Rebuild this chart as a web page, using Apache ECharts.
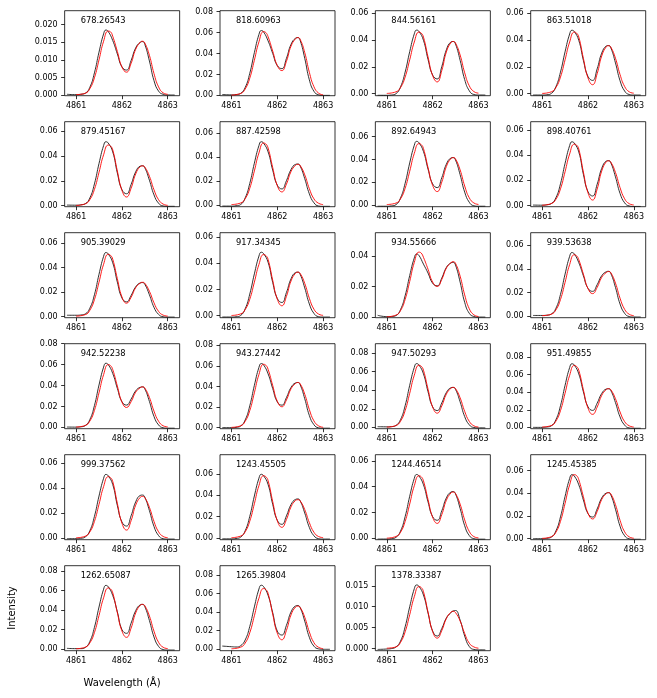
<!DOCTYPE html>
<html>
<head>
<meta charset="utf-8">
<script src="https://cdn.jsdelivr.net/npm/echarts@6/dist/echarts.min.js"></script>
<style>
  html, body { margin: 0; padding: 0; background: #fff; }
  #chart { width: 657px; height: 698px; }
</style>
</head>
<body>
<div id="chart"></div>
<script>
// panel labels
const titles = ['678.26543', '818.60963', '844.56161', '863.51018', '879.45167', '887.42598',
    '892.64943', '898.40761', '905.39029', '917.34345', '934.55666', '939.53638', '942.52238',
    '943.27442', '947.50293', '951.49855', '999.37562', '1243.45505', '1244.46514', '1245.45385',
    '1262.65087', '1265.39804', '1378.33387'];

// wavelength grids (Angstrom) of the observed (black) and fitted (red) profiles
const waveObs = [4860.8, 4861.0, 4861.1, 4861.2, 4861.3, 4861.4, 4861.5, 4861.6, 4861.65, 4861.7,
    4861.8, 4861.9, 4862.0, 4862.1, 4862.2, 4862.3, 4862.4, 4862.45, 4862.5, 4862.6, 4862.7,
    4862.8, 4862.9, 4863.0, 4863.15];
const waveFit = [4861.0, 4861.2, 4861.3, 4861.4, 4861.5, 4861.6, 4861.7, 4861.75, 4861.8, 4861.9,
    4862.0, 4862.1, 4862.2, 4862.3, 4862.4, 4862.45, 4862.5, 4862.6, 4862.7, 4862.8, 4862.9, 4863.0];

// observed intensity, one row per panel
const obs = [
    [0.0002,0.0001,0.0002,0.0005,0.0022,0.0063,0.0122,0.0174,0.0185,0.0181,0.0155,0.0117,0.0080,0.0071,0.0098,0.0134,0.0150,0.0152,0.0144,0.0097,0.0041,0.0011,0.0002,0.0000,0.0000],
    [0.0008,0.0005,0.0008,0.0019,0.0076,0.0211,0.0409,0.0583,0.0620,0.0608,0.0521,0.0402,0.0285,0.0256,0.0354,0.0488,0.0547,0.0553,0.0525,0.0354,0.0149,0.0039,0.0006,0.0000,0.0000],
    [-0.0012,-0.0012,-0.0010,0.0000,0.0051,0.0161,0.0314,0.0447,0.0475,0.0466,0.0399,0.0256,0.0139,0.0110,0.0202,0.0328,0.0386,0.0390,0.0371,0.0250,0.0105,0.0022,-0.0006,-0.0010,-0.0010],
    [-0.0010,-0.0010,-0.0008,0.0002,0.0052,0.0161,0.0313,0.0446,0.0474,0.0465,0.0398,0.0249,0.0129,0.0099,0.0185,0.0303,0.0356,0.0360,0.0342,0.0230,0.0097,0.0020,-0.0006,-0.0010,-0.0010],
    [0.0005,0.0004,0.0007,0.0016,0.0062,0.0175,0.0339,0.0483,0.0514,0.0504,0.0432,0.0263,0.0129,0.0096,0.0170,0.0272,0.0318,0.0321,0.0305,0.0205,0.0087,0.0020,-0.0002,-0.0005,-0.0005],
    [-0.0010,-0.0010,-0.0007,0.0003,0.0059,0.0180,0.0350,0.0498,0.0530,0.0519,0.0445,0.0292,0.0166,0.0134,0.0203,0.0297,0.0340,0.0343,0.0326,0.0220,0.0093,0.0018,-0.0009,-0.0012,-0.0012],
    [-0.0012,-0.0012,-0.0009,0.0002,0.0061,0.0190,0.0369,0.0525,0.0559,0.0548,0.0470,0.0315,0.0185,0.0152,0.0239,0.0358,0.0412,0.0416,0.0395,0.0266,0.0112,0.0023,-0.0008,-0.0012,-0.0012],
    [0.0003,0.0002,0.0005,0.0015,0.0061,0.0172,0.0335,0.0477,0.0507,0.0497,0.0426,0.0248,0.0110,0.0075,0.0168,0.0295,0.0353,0.0357,0.0339,0.0228,0.0096,0.0021,-0.0004,-0.0008,-0.0008],
    [0.0010,0.0010,0.0012,0.0021,0.0068,0.0178,0.0346,0.0493,0.0524,0.0514,0.0440,0.0282,0.0152,0.0120,0.0172,0.0243,0.0275,0.0278,0.0264,0.0178,0.0075,0.0017,-0.0002,-0.0005,-0.0005],
    [-0.0010,-0.0010,-0.0008,0.0002,0.0053,0.0165,0.0319,0.0455,0.0484,0.0474,0.0407,0.0254,0.0132,0.0101,0.0177,0.0281,0.0329,0.0332,0.0315,0.0212,0.0090,0.0018,-0.0007,-0.0010,-0.0010],
    [0.0012,0.0003,0.0004,0.0010,0.0050,0.0141,0.0274,0.0390,0.0415,0.0407,0.0349,0.0290,0.0223,0.0206,0.0257,0.0327,0.0357,0.0361,0.0343,0.0231,0.0097,0.0025,0.0004,0.0000,0.0000],
    [0.0005,0.0005,0.0007,0.0017,0.0065,0.0183,0.0355,0.0506,0.0538,0.0527,0.0452,0.0341,0.0235,0.0209,0.0265,0.0342,0.0375,0.0379,0.0360,0.0243,0.0102,0.0023,-0.0004,-0.0008,-0.0008],
    [0.0003,0.0002,0.0005,0.0017,0.0074,0.0208,0.0405,0.0576,0.0613,0.0601,0.0515,0.0373,0.0245,0.0213,0.0270,0.0349,0.0383,0.0387,0.0368,0.0248,0.0104,0.0023,-0.0004,-0.0008,-0.0008],
    [0.0000,0.0000,0.0003,0.0016,0.0075,0.0212,0.0411,0.0586,0.0623,0.0611,0.0523,0.0381,0.0251,0.0219,0.0292,0.0391,0.0435,0.0439,0.0417,0.0281,0.0119,0.0029,-0.0001,-0.0005,-0.0005],
    [0.0008,0.0006,0.0008,0.0021,0.0084,0.0233,0.0453,0.0645,0.0686,0.0672,0.0576,0.0383,0.0221,0.0181,0.0263,0.0375,0.0426,0.0430,0.0409,0.0275,0.0116,0.0028,-0.0001,-0.0005,-0.0005],
    [0.0000,0.0000,0.0004,0.0018,0.0087,0.0246,0.0478,0.0681,0.0724,0.0710,0.0608,0.0405,0.0235,0.0193,0.0275,0.0386,0.0436,0.0440,0.0418,0.0282,0.0119,0.0026,-0.0006,-0.0010,-0.0010],
    [-0.0005,-0.0005,-0.0002,0.0009,0.0059,0.0173,0.0336,0.0478,0.0509,0.0499,0.0428,0.0261,0.0129,0.0096,0.0178,0.0289,0.0341,0.0344,0.0327,0.0220,0.0093,0.0020,-0.0005,-0.0008,-0.0008],
    [-0.0008,-0.0008,-0.0005,0.0008,0.0068,0.0203,0.0394,0.0561,0.0597,0.0585,0.0501,0.0316,0.0166,0.0128,0.0207,0.0314,0.0362,0.0366,0.0348,0.0234,0.0099,0.0021,-0.0006,-0.0010,-0.0010],
    [-0.0005,-0.0005,-0.0002,0.0008,0.0057,0.0168,0.0326,0.0464,0.0494,0.0484,0.0415,0.0282,0.0168,0.0140,0.0213,0.0313,0.0358,0.0362,0.0344,0.0232,0.0098,0.0022,-0.0002,-0.0006,-0.0006],
    [0.0000,0.0000,0.0003,0.0014,0.0068,0.0192,0.0373,0.0531,0.0565,0.0554,0.0475,0.0341,0.0221,0.0191,0.0262,0.0359,0.0402,0.0406,0.0386,0.0260,0.0110,0.0026,-0.0001,-0.0005,-0.0005],
    [0.0007,0.0004,0.0004,0.0016,0.0078,0.0222,0.0431,0.0614,0.0653,0.0640,0.0549,0.0382,0.0200,0.0161,0.0265,0.0393,0.0453,0.0458,0.0435,0.0293,0.0124,0.0027,-0.0005,-0.0010,-0.0010],
    [0.0032,0.0025,0.0022,0.0036,0.0098,0.0244,0.0455,0.0648,0.0689,0.0675,0.0579,0.0393,0.0194,0.0151,0.0256,0.0400,0.0465,0.0470,0.0447,0.0301,0.0127,0.0031,0.0002,-0.0003,-0.0003],
    [-0.0002,-0.0001,0.0000,0.0004,0.0018,0.0052,0.0100,0.0143,0.0152,0.0149,0.0128,0.0085,0.0042,0.0030,0.0048,0.0073,0.0086,0.0090,0.0091,0.0068,0.0030,0.0005,-0.0002,-0.0003,-0.0003]
];

// fitted model, one row per panel
const fit = [
    [0.0001,0.0005,0.0018,0.0049,0.0100,0.0153,0.0182,0.0180,0.0167,0.0124,0.0080,0.0065,0.0090,0.0130,0.0150,0.0153,0.0148,0.0113,0.0061,0.0023,0.0006,0.0002],
    [0.0003,0.0018,0.0061,0.0165,0.0336,0.0512,0.0610,0.0601,0.0561,0.0424,0.0286,0.0237,0.0326,0.0471,0.0542,0.0553,0.0536,0.0409,0.0221,0.0083,0.0022,0.0006],
    [0.0002,0.0014,0.0046,0.0124,0.0253,0.0386,0.0460,0.0453,0.0423,0.0274,0.0136,0.0088,0.0173,0.0312,0.0382,0.0390,0.0378,0.0289,0.0156,0.0059,0.0016,0.0004],
    [0.0002,0.0014,0.0046,0.0124,0.0253,0.0386,0.0460,0.0453,0.0423,0.0264,0.0118,0.0067,0.0149,0.0282,0.0351,0.0358,0.0347,0.0265,0.0143,0.0054,0.0014,0.0004],
    [0.0002,0.0015,0.0049,0.0131,0.0268,0.0409,0.0487,0.0480,0.0448,0.0279,0.0124,0.0070,0.0140,0.0255,0.0314,0.0320,0.0310,0.0237,0.0128,0.0048,0.0013,0.0003],
    [0.0003,0.0016,0.0052,0.0140,0.0285,0.0436,0.0519,0.0511,0.0477,0.0314,0.0162,0.0109,0.0174,0.0280,0.0333,0.0340,0.0330,0.0252,0.0136,0.0051,0.0014,0.0003],
    [0.0003,0.0016,0.0054,0.0146,0.0296,0.0453,0.0539,0.0531,0.0496,0.0328,0.0172,0.0117,0.0201,0.0338,0.0408,0.0416,0.0404,0.0308,0.0166,0.0062,0.0017,0.0004],
    [0.0002,0.0015,0.0049,0.0132,0.0268,0.0410,0.0488,0.0481,0.0449,0.0266,0.0101,0.0043,0.0130,0.0274,0.0348,0.0355,0.0344,0.0263,0.0142,0.0053,0.0014,0.0004],
    [0.0003,0.0015,0.0051,0.0138,0.0281,0.0428,0.0510,0.0502,0.0469,0.0310,0.0161,0.0109,0.0157,0.0236,0.0274,0.0280,0.0272,0.0207,0.0112,0.0042,0.0011,0.0003],
    [0.0002,0.0014,0.0047,0.0126,0.0256,0.0391,0.0466,0.0459,0.0429,0.0271,0.0127,0.0076,0.0148,0.0265,0.0325,0.0332,0.0322,0.0246,0.0133,0.0050,0.0013,0.0003],
    [0.0002,0.0013,0.0043,0.0116,0.0235,0.0360,0.0428,0.0422,0.0394,0.0315,0.0231,0.0202,0.0248,0.0323,0.0358,0.0365,0.0354,0.0270,0.0146,0.0055,0.0015,0.0004],
    [0.0003,0.0016,0.0052,0.0140,0.0285,0.0436,0.0519,0.0511,0.0477,0.0355,0.0233,0.0190,0.0242,0.0328,0.0369,0.0377,0.0366,0.0279,0.0151,0.0057,0.0015,0.0004],
    [0.0003,0.0018,0.0060,0.0162,0.0330,0.0504,0.0600,0.0591,0.0552,0.0395,0.0243,0.0190,0.0245,0.0336,0.0379,0.0387,0.0375,0.0286,0.0155,0.0058,0.0015,0.0004],
    [0.0003,0.0018,0.0062,0.0166,0.0339,0.0517,0.0616,0.0607,0.0567,0.0410,0.0257,0.0203,0.0269,0.0378,0.0430,0.0439,0.0426,0.0325,0.0176,0.0066,0.0018,0.0004],
    [0.0003,0.0020,0.0067,0.0180,0.0367,0.0561,0.0668,0.0658,0.0615,0.0411,0.0220,0.0153,0.0231,0.0358,0.0421,0.0430,0.0417,0.0318,0.0172,0.0065,0.0017,0.0004],
    [0.0004,0.0021,0.0071,0.0190,0.0388,0.0592,0.0705,0.0694,0.0649,0.0427,0.0220,0.0148,0.0230,0.0364,0.0431,0.0440,0.0427,0.0326,0.0176,0.0066,0.0018,0.0004],
    [0.0002,0.0015,0.0049,0.0133,0.0270,0.0412,0.0491,0.0484,0.0452,0.0278,0.0120,0.0064,0.0139,0.0263,0.0326,0.0333,0.0323,0.0246,0.0133,0.0050,0.0013,0.0003],
    [0.0003,0.0018,0.0058,0.0158,0.0321,0.0491,0.0584,0.0575,0.0537,0.0342,0.0163,0.0100,0.0173,0.0292,0.0352,0.0359,0.0348,0.0266,0.0144,0.0054,0.0014,0.0004],
    [0.0002,0.0015,0.0048,0.0131,0.0266,0.0407,0.0484,0.0477,0.0445,0.0300,0.0164,0.0116,0.0184,0.0295,0.0351,0.0358,0.0347,0.0265,0.0143,0.0054,0.0014,0.0004],
    [0.0003,0.0017,0.0057,0.0153,0.0311,0.0475,0.0565,0.0557,0.0520,0.0370,0.0225,0.0174,0.0239,0.0346,0.0398,0.0406,0.0394,0.0300,0.0162,0.0061,0.0016,0.0004],
    [0.0003,0.0019,0.0063,0.0169,0.0344,0.0526,0.0626,0.0617,0.0576,0.0373,0.0186,0.0120,0.0215,0.0370,0.0449,0.0458,0.0444,0.0339,0.0183,0.0069,0.0018,0.0005],
    [0.0003,0.0020,0.0065,0.0176,0.0359,0.0549,0.0653,0.0643,0.0601,0.0377,0.0172,0.0100,0.0202,0.0369,0.0454,0.0463,0.0449,0.0343,0.0185,0.0069,0.0019,0.0005],
    [0.0001,0.0004,0.0015,0.0040,0.0081,0.0124,0.0148,0.0146,0.0136,0.0087,0.0041,0.0025,0.0043,0.0072,0.0087,0.0089,0.0086,0.0066,0.0036,0.0013,0.0004,0.0001]
];

// axis ranges and ticks
const xMin = 4860.75, xMax = 4863.26;
const xTicks = [4861, 4862, 4863];
const yMin = [-0.0002, -0.0003, -0.0015, -0.0015, -0.0008, -0.0015, -0.0016, -0.0010, -0.0010, -0.0015,
    -0.0004, -0.0014, -0.0013, -0.0010, -0.0014, -0.0015, -0.0013, -0.0016, -0.0010, -0.0009,
    -0.0017, -0.0018, -0.0005];
const yMax = [0.0240, 0.0810, 0.0620, 0.0620, 0.0675, 0.0698, 0.0732, 0.0667, 0.0687, 0.0633,
    0.0556, 0.0706, 0.0800, 0.0816, 0.0900, 0.0952, 0.0667, 0.0781, 0.0647, 0.0741,
    0.0855, 0.0900, 0.0198];
const ticks3 = [0, 0.005, 0.010, 0.015, 0.020];
const ticks6 = [0, 0.02, 0.04, 0.06];
const ticks8 = [0, 0.02, 0.04, 0.06, 0.08];
const yTicks = [ticks3, ticks8, ticks6, ticks6, ticks6, ticks6, ticks6, ticks6, ticks6, ticks6,
    [0, 0.02, 0.04], ticks6, ticks8, ticks8, ticks8, ticks8, ticks6, ticks6, ticks6, ticks6,
    ticks8, ticks8, [0, 0.005, 0.010, 0.015]];
const yDigits = [3, 2, 2, 2, 2, 2, 2, 2, 2, 2, 2, 2, 2, 2, 2, 2, 2, 2, 2, 2, 2, 2, 3];

const FONT = 'DejaVu Sans';
const W = 115, H = 85, X0 = 64.65, Y0 = 10.7, DX = 155.35, DY = 111;

const grid = [], xAxis = [], yAxis = [], series = [], title = [];

titles.forEach((name, i) => {
    const col = i % 4, row = Math.floor(i / 4);
    const left = X0 + col * DX, top = Y0 + row * DY;
    grid.push({
        left: left, top: top, width: W, height: H,
        show: true, borderColor: '#000', borderWidth: 0.8, backgroundColor: 'transparent',
        containLabel: false, outerBoundsMode: 'none'
    });
    xAxis.push({
        gridIndex: i, type: 'value', min: xMin, max: xMax,
        axisLine: {show: false, onZero: false},
        splitLine: {show: false},
        axisTick: {show: true, customValues: xTicks, length: 3.5, lineStyle: {color: '#000', width: 0.8}},
        axisLabel: {customValues: xTicks, formatter: (v) => String(Math.round(v)),
            fontSize: 8, color: '#000', fontFamily: FONT, margin: 6}
    });
    const dg = yDigits[i];
    yAxis.push({
        gridIndex: i, type: 'value', min: yMin[i], max: yMax[i],
        axisLine: {show: false, onZero: false},
        splitLine: {show: false},
        axisTick: {show: true, customValues: yTicks[i], length: 3.5, lineStyle: {color: '#000', width: 0.8}},
        axisLabel: {customValues: yTicks[i], formatter: (v) => v.toFixed(dg),
            fontSize: 8, color: '#000', fontFamily: FONT, margin: 7}
    });
    series.push({
        type: 'line', xAxisIndex: i, yAxisIndex: i, showSymbol: false,
        smooth: 0.5,
        lineStyle: {color: '#1a1a1a', width: 0.9},
        data: waveObs.map((w, j) => [w, obs[i][j]])
    });
    series.push({
        type: 'line', xAxisIndex: i, yAxisIndex: i, showSymbol: false,
        smooth: 0.5,
        lineStyle: {color: '#ff0000', width: 0.9},
        data: waveFit.map((w, j) => [w, fit[i][j]])
    });
    title.push({
        text: name, left: left + 16, top: top + 6, padding: 0,
        textStyle: {fontSize: 8.3, fontWeight: 'normal', color: '#000', fontFamily: FONT}
    });
});

const myChart = echarts.init(document.getElementById('chart'));
myChart.setOption({
    animation: false,
    backgroundColor: '#fff',
    title: title,
    grid: grid,
    xAxis: xAxis,
    yAxis: yAxis,
    series: series,
    graphic: [
        {type: 'text', x: 12.5, y: 608, rotation: Math.PI / 2,
            style: {text: 'Intensity', fontSize: 10, fontFamily: FONT, fill: '#000',
                align: 'center', verticalAlign: 'middle'}},
        {type: 'text', x: 122, y: 683,
            style: {text: 'Wavelength (Å)', fontSize: 10, fontFamily: FONT, fill: '#000',
                align: 'center', verticalAlign: 'middle'}}
    ]
});
</script>
</body>
</html>
